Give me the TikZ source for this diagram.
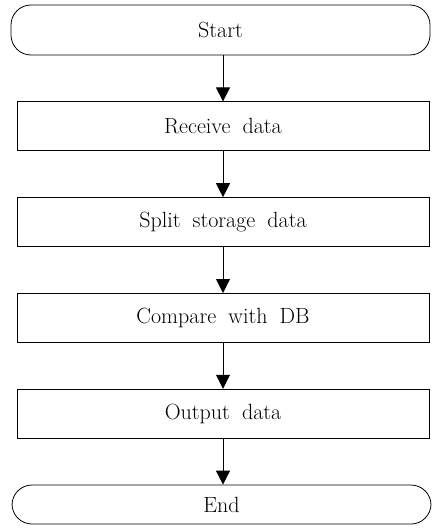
\documentclass[tikz,border=0pt]{standalone}
\usetikzlibrary{positioning,arrows.meta}
\newcommand{\boxfont}{\fontsize{22}{26}\selectfont\spaceskip=.55em plus .1em\relax}

\begin{document}
\begin{tikzpicture}[x=1pt, y=1pt, node distance=46pt,
  process/.style={draw, line width=.8pt, font=\boxfont, minimum width=412pt, minimum height=49pt},
  terminal/.style={draw, line width=.8pt, font=\boxfont, rounded corners=20pt, minimum width=419pt},
  flow/.style={-{Triangle[width=14pt,length=14pt]}, line width=.8pt}]
\useasboundingbox (0,0) rectangle (431,-530);

\node[terminal, minimum height=50pt]      (start)   at (220.5,-30) {Start};
\node[process, below = of start, xshift = 2.5pt]  (recv)    {Receive data};
\node[process, below = of recv]           (split)   {Split storage data};
\node[process, below = of split]          (compare) {Compare with DB};
\node[process, below = of compare]        (output)  {Output data};
\node[terminal, minimum height=39pt, below = of output, xshift = -1.5pt] (end) {End};

% Edges
\draw[flow] (recv.north |- start.south) -- (recv.north);
\draw[flow] (recv) -- (split);
\draw[flow] (split) -- (compare);
\draw[flow] (compare) -- (output);
\draw[flow] (output.south) -- (output.south |- end.north);
\end{tikzpicture}
\end{document}
